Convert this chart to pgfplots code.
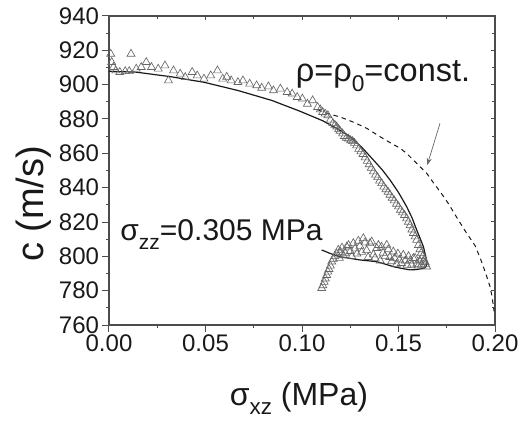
\documentclass[border=0pt]{standalone}
\usepackage{fontspec}
\setmainfont{Liberation Sans}
\usepackage{graphicx}
\usepackage{pgfplots}
\usepackage{pgfplotstable}
\pgfplotsset{compat=1.18}
\usetikzlibrary{arrows.meta}

\newcommand\lsub[1]{\raisebox{-0.3em}{\scalebox{0.7}{#1}}}

% measured sound speed, triangles (loading branch, then unloading loop)
\pgfplotstableread{
x y
0.0009 917.9
0.0014 913.1
0.0023 910.2
0.0035 908.2
0.0056 907.3
0.0084 907.8
0.0105 907.8
0.0114 917.9
0.0141 909.2
0.0167 910.2
0.0193 913.1
0.0220 910.2
0.0255 909.2
0.0290 911.1
0.0308 902.4
0.0334 908.2
0.0369 906.3
0.0395 904.3
0.0431 907.3
0.0457 905.3
0.0492 903.4
0.0527 905.3
0.0562 908.2
0.0589 903.4
0.0610 904.5
0.0633 902.4
0.0668 901.4
0.0694 902.4
0.0729 900.5
0.0765 899.5
0.0791 898.1
0.0826 898.9
0.0852 896.6
0.0888 897.6
0.0923 895.6
0.0949 894.7
0.0975 892.7
0.1002 891.8
0.1028 888.8
0.1055 890.8
0.1081 886.9
0.1095 885.5
0.1107 884.0
0.1120 883.0
0.1134 882.1
0.1147 879.5
0.1160 877.5
0.1170 876.5
0.1180 875.5
0.1190 874.0
0.1197 873.0
0.1210 871.5
0.1220 870.0
0.1230 869.0
0.1240 868.5
0.1252 867.5
0.1262 867.0
0.1272 866.0
0.1283 864.5
0.1294 862.5
0.1305 861.0
0.1316 859.5
0.1327 857.5
0.1338 855.5
0.1348 853.5
0.1359 851.5
0.1370 849.4
0.1381 847.5
0.1392 846.0
0.1402 844.0
0.1413 842.5
0.1424 840.5
0.1435 839.0
0.1446 837.5
0.1456 835.8
0.1467 834.0
0.1478 832.5
0.1489 830.5
0.1500 829.0
0.1510 827.0
0.1520 825.5
0.1531 824.0
0.1542 822.0
0.1551 820.0
0.1560 818.0
0.1569 815.5
0.1577 813.5
0.1586 811.5
0.1594 809.5
0.1603 806.5
0.1611 804.0
0.1618 802.0
0.1625 800.0
0.1632 798.0
0.1638 796.5
0.1646 794.0
0.1640 795.5
0.1629 796.9
0.1618 795.0
0.1610 797.5
0.1602 794.5
0.1595 795.5
0.1586 799.0
0.1577 798.9
0.1568 795.0
0.1560 797.5
0.1552 800.0
0.1545 795.0
0.1535 797.5
0.1525 800.8
0.1515 796.0
0.1505 798.0
0.1497 801.5
0.1490 795.5
0.1480 799.0
0.1473 802.7
0.1464 797.0
0.1455 799.5
0.1447 804.0
0.1439 806.6
0.1430 800.0
0.1420 802.0
0.1412 805.5
0.1405 797.5
0.1396 806.5
0.1387 804.7
0.1378 799.0
0.1370 801.0
0.1361 808.5
0.1352 807.6
0.1343 799.5
0.1335 803.5
0.1326 808.0
0.1318 810.5
0.1309 802.5
0.1300 806.0
0.1292 809.0
0.1285 801.5
0.1275 804.5
0.1266 807.6
0.1258 800.0
0.1250 803.0
0.1241 806.5
0.1232 805.6
0.1224 802.0
0.1215 800.5
0.1207 805.0
0.1200 802.5
0.1194 799.0
0.1188 803.7
0.1179 801.5
0.1170 800.0
0.1162 798.5
0.1154 796.9
0.1147 794.5
0.1140 792.5
0.1134 791.0
0.1128 789.0
0.1121 787.0
0.1115 785.0
0.1108 783.0
0.1102 781.4
}\measured

% model, solid
\pgfplotstableread{
x y
0.0000 907.8
0.0140 907.3
0.0316 904.7
0.0492 901.4
0.0668 896.6
0.0844 890.8
0.0990 884.5
0.1107 879.0
0.1180 874.5
0.1249 869.7
0.1310 863.5
0.1370 856.1
0.1415 850.5
0.1456 844.5
0.1500 837.2
0.1542 829.0
0.1570 822.5
0.1594 815.4
0.1612 810.5
0.1629 805.6
0.1640 800.5
0.1649 796.0
0.1640 793.5
0.1629 793.0
0.1595 792.3
0.1560 792.1
0.1515 793.0
0.1473 794.0
0.1430 795.5
0.1387 796.9
0.1300 797.9
0.1250 798.8
0.1197 799.8
0.1150 801.5
0.1102 803.7
}\model

% constant density, dashed
\pgfplotstableread{
x y
0.1080 885.5
0.1128 883.3
0.1197 881.2
0.1270 878.0
0.1335 874.6
0.1400 870.0
0.1460 866.0
0.1508 863.0
0.1542 860.0
0.1600 853.5
0.1646 848.4
0.1680 843.0
0.1720 837.0
0.1760 830.5
0.1800 823.0
0.1850 814.0
0.1898 806.0
0.1930 797.0
0.1955 789.0
0.1974 782.4
0.1983 777.5
0.1991 771.7
0.1995 768.0
}\constrho

\pgfplotsset{
  frame/.style={
    scale only axis, width=386pt, height=309pt,
    xmin=0, xmax=0.2, ymin=760, ymax=940,
    xtick={0,0.05,0.1,0.15,0.2},
    ytick={760,780,...,940},
    minor x tick num=1, minor y tick num=1,
  },
}

\begin{document}
\begin{tikzpicture}
  \begin{axis}[
      frame, name=main, clip=false,
      axis line style={black!70, line width=1.1pt},
      xtick pos=left, ytick pos=left, tick align=outside,
      major tick length=6.5pt, minor tick length=3pt,
      every tick/.style={black!70, line width=1pt},
      xticklabels={0.00,0.05,0.10,0.15,0.20},
      /pgf/number format/assume math mode=true,
      tick label style={font=\fontsize{24}{28}\selectfont, text=black!90},
    ]
    \addplot[only marks, mark=triangle, mark size=4.6pt,
      mark options={draw=black!60, fill=none, line width=0.65pt}]
      table {\measured};
    \addplot[black!90, line width=1.2pt] table {\model};
    \addplot[black!90, line width=1pt, dash pattern=on 4.5pt off 4pt] table {\constrho};

    \draw[black!60, line width=0.7pt, -{Stealth[length=7pt, width=5pt]}]
      (axis cs:0.1715,877.5) -- (axis cs:0.1649,853.2);

    \node[anchor=base west, font=\fontsize{32.5}{38}\selectfont, text=black!90]
      at (axis cs:0.0950,901.8) {ρ=ρ\lsub{0}=const.};
    \node[anchor=base west, font=\fontsize{30}{36}\selectfont, text=black!90]
      at (axis cs:0.0041,809) {σ\lsub{zz}=0.305 MPa};

    \node[anchor=base, font=\fontsize{32}{38}\selectfont, text=black!90]
      at ([yshift=-80pt]rel axis cs:0.492,0) {σ\lsub{xz} (MPa)};
    \node[anchor=base, rotate=90, font=\fontsize{38}{44}\selectfont, text=black!90]
      at ([xshift=-65pt]rel axis cs:0,0.392) {c (m/s)};
  \end{axis}

  % top and right ticks point inwards
  \begin{axis}[
      frame, axis line style={draw=none},
      xtick pos=right, ytick pos=right, tick align=inside,
      major tick length=4.5pt, minor tick length=3pt,
      every tick/.style={black!70, line width=1pt},
      xticklabels={}, yticklabels={},
    ]
  \end{axis}

  \pgfresetboundingbox
  \path (main.south west) ++(-109pt,-95pt) rectangle ++(532pt,420pt);
\end{tikzpicture}
\end{document}
